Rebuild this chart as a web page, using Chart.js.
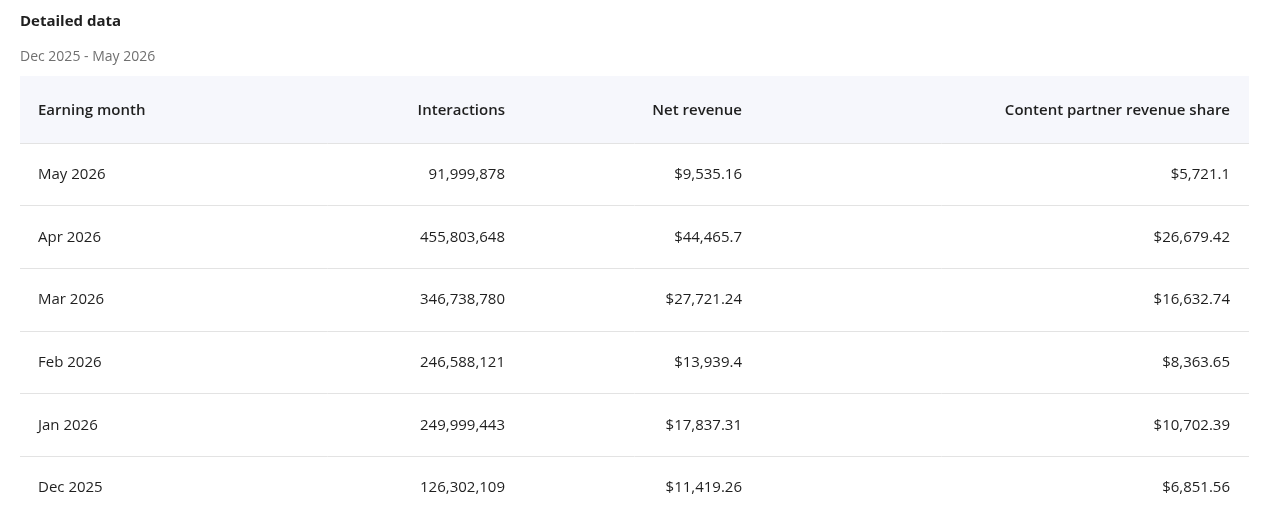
<!DOCTYPE html>
<html>
<head>
<meta charset="utf-8">
<script src="https://cdn.jsdelivr.net/npm/chart.js@4"></script>
<style>
  html, body { margin: 0; padding: 0; background: #fff; }
  #wrap { width: 1268px; height: 518px; position: relative; }
</style>
</head>
<body>
<div id="wrap"><canvas id="detalhe"></canvas></div>
<script>
// table data
const rows = [
    ['May 2026', '91,999,878', '$9,535.16', '$5,721.1'],
    ['Apr 2026', '455,803,648', '$44,465.7', '$26,679.42'],
    ['Mar 2026', '346,738,780', '$27,721.24', '$16,632.74'],
    ['Feb 2026', '246,588,121', '$13,939.4', '$8,363.65'],
    ['Jan 2026', '249,999,443', '$17,837.31', '$10,702.39'],
    ['Dec 2025', '126,302,109', '$11,419.26', '$6,851.56']
];
const header = ['Earning month', 'Interactions', 'Net revenue', 'Content partner revenue share'];
// column anchors (x units) and alignment
const cols = [
    { x: 38, align: 'left' },
    { x: 505, align: 'right' },
    { x: 742, align: 'right' },
    { x: 1230, align: 'right' }
];
const FONT = '"Open Sans", "Noto Sans", sans-serif';

const tablePlugin = {
    id: 'tabela',
    afterDraw(chart) {
        const ctx = chart.ctx;
        const xs = chart.scales.x, ys = chart.scales.y;
        const left = xs.getPixelForValue(20), right = xs.getPixelForValue(1249);
        ctx.save();
        ctx.textBaseline = 'middle';
        // title
        ctx.fillStyle = '#1f1f1f';
        ctx.font = '700 15px ' + FONT;
        ctx.textAlign = 'left';
        ctx.fillText('Detailed data', left, ys.getPixelForValue(22));
        ctx.fillStyle = '#707070';
        ctx.font = '14px ' + FONT;
        ctx.fillText('Dec 2025 - May 2026', left, ys.getPixelForValue(57));
        // header band
        const hTop = ys.getPixelForValue(76), hBot = ys.getPixelForValue(143);
        ctx.fillStyle = '#f6f7fc';
        ctx.fillRect(left, hTop, right - left, hBot - hTop);
        ctx.fillStyle = '#1f1f1f';
        ctx.font = '600 15px ' + FONT;
        header.forEach((h, i) => {
            ctx.textAlign = cols[i].align;
            ctx.fillText(h, xs.getPixelForValue(cols[i].x), ys.getPixelForValue(111));
        });
        ctx.strokeStyle = '#e3e3e3';
        ctx.lineWidth = 1;
        ctx.beginPath();
        ctx.moveTo(left, Math.round(hBot) + 0.5);
        ctx.lineTo(right, Math.round(hBot) + 0.5);
        ctx.stroke();
        // rows
        ctx.font = '15px ' + FONT;
        rows.forEach((r, k) => {
            const yc = 175 + k * 62.6;
            r.forEach((v, i) => {
                ctx.textAlign = cols[i].align;
                ctx.fillStyle = '#1f1f1f';
                ctx.fillText(v, xs.getPixelForValue(cols[i].x), ys.getPixelForValue(yc));
            });
            if (k < rows.length - 1) {
                const yl = Math.round(ys.getPixelForValue(yc + 30.3)) + 0.5;
                ctx.beginPath();
                ctx.moveTo(left, yl);
                ctx.lineTo(right, yl);
                ctx.stroke();
            }
        });
        ctx.restore();
    }
};

const config = {
    type: 'scatter',
    data: { datasets: [{ data: [] }] },
    options: {
        responsive: true,
        maintainAspectRatio: false,
        animation: false,
        layout: { padding: 0 },
        plugins: { legend: { display: false }, tooltip: { enabled: false } },
        scales: {
            x: { type: 'linear', min: 0, max: 1268, display: false },
            y: { type: 'linear', min: 0, max: 518, reverse: true, display: false }
        }
    },
    plugins: [tablePlugin]
};

const myChart = new Chart(document.getElementById('detalhe'), config);
</script>
</body>
</html>
